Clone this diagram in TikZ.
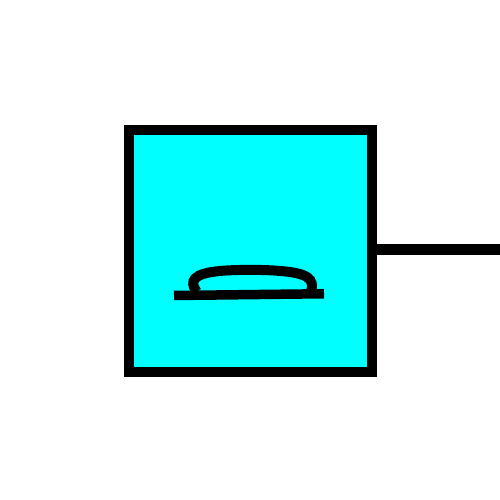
\documentclass[tikz,border=0pt]{standalone}
\usepackage{tikz}
\usetikzlibrary{positioning}
\definecolor{boxcyan}{RGB}{0,255,255}
\begin{document}
\begin{tikzpicture}[line width=0.2cm]
    \useasboundingbox (0,0) rectangle (10,10);
    \node [draw,fill=boxcyan,minimum width=4.86cm,minimum height=4.84cm,inner sep=0pt] (box) at (5.01,4.98) {};
    \coordinate (lineend) at (10,5.01);
    \draw [line width=0.21cm] (box.east |- lineend) -- (lineend);
    % base and dome
    \coordinate (baseleft) at (3.48,4.09);
    \coordinate (baseright) at (6.48,4.125);
    \draw [line width=0.19cm] (baseleft) -- (baseright);
    \coordinate (domeleft) at (3.93,4.17);
    \coordinate (domeright) at (6.22,4.17);
    \draw (domeleft) .. controls (3.78,4.38) and (3.86,4.53) .. (4.4,4.58)
        .. controls (4.7,4.61) and (5.3,4.61) .. (5.6,4.58)
        .. controls (6.15,4.54) and (6.3,4.42) .. (domeright);
\end{tikzpicture}
\end{document}
